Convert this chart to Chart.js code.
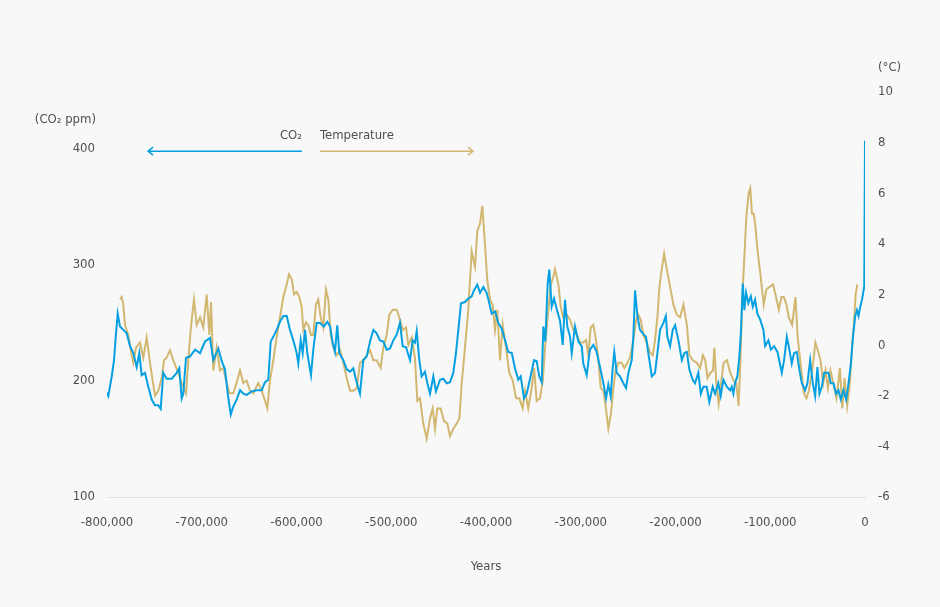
<!DOCTYPE html>
<html>
<head>
<meta charset="utf-8">
<script src="https://cdn.jsdelivr.net/npm/chart.js@4"></script>
<style>
    html, body { margin: 0; padding: 0; background: #f8f8f8; }
    #wrap { width: 940px; height: 607px; }
</style>
</head>
<body>
<div id="wrap"><canvas id="chart" width="940" height="607"></canvas></div>
<script>
// CO2 (ppm) — ice core record
const co2Years = [-800000,-798600,-795000,-792600,-790500,-788700,-786300,-782800,-779200,-775700,-772200,-768700,-765900,-763400,-759900,-756400,-752800,-749300,-745800,-743300,-740600,-737000,-731700,-726400,-723700,-721200,-719500,-716600,-712400,-707100,-701800,-696600,-691300,-687800,-682500,-678900,-675500,-672600,-669400,-666700,-663100,-659600,-656100,-652600,-647300,-642000,-636800,-633200,-629800,-627200,-624500,-621000,-617400,-613900,-610300,-606900,-603400,-599800,-598100,-595600,-593500,-591000,-588600,-584700,-582300,-578700,-575200,-571000,-567500,-564600,-561800,-559400,-557000,-554800,-550600,-547000,-543500,-540000,-537200,-533000,-529500,-525900,-522400,-518900,-515400,-511900,-508400,-504800,-501300,-497800,-494200,-490800,-487900,-484400,-480200,-477400,-475000,-473100,-470400,-467900,-464400,-461900,-459100,-455600,-452800,-448500,-445000,-441500,-438000,-434500,-431700,-429200,-426400,-422200,-418700,-415100,-412700,-409200,-406300,-402800,-399300,-396500,-394000,-390500,-387000,-383400,-379900,-376500,-372800,-369400,-365900,-363400,-359900,-357000,-352900,-349300,-346500,-343800,-341200,-339500,-337400,-334900,-333200,-330700,-328200,-325400,-321900,-319000,-316600,-314200,-311300,-309500,-306100,-302500,-299000,-297300,-293700,-290300,-286700,-283200,-279700,-276100,-273300,-270900,-268400,-266300,-264600,-262100,-258600,-255000,-252200,-249700,-246200,-244500,-242700,-240200,-237500,-234600,-231100,-228700,-225000,-221600,-219100,-216300,-212800,-210200,-208600,-205700,-202900,-200400,-196900,-193300,-190600,-188000,-185400,-181800,-179400,-175900,-173300,-170600,-167100,-164300,-160700,-158200,-154800,-152300,-149500,-145900,-142400,-140700,-138900,-137200,-134700,-132600,-130800,-129000,-127300,-125500,-123100,-120500,-118400,-116000,-113600,-110700,-107200,-105400,-101900,-99400,-95900,-92400,-87800,-85400,-82500,-79800,-77300,-74900,-72000,-69300,-66700,-63200,-60800,-57900,-55100,-52600,-50200,-48100,-45600,-43100,-38600,-36100,-33300,-30400,-28000,-25500,-22700,-19900,-17400,-14900,-12700,-10300,-8500,-6800,-5000,-3200,-1500,-800,0];
const co2Values = [190,187,204,218,241,258,247,244,241,230,224,212,224,205,207,195,184,179,179,176,207,202,202,207,211,185,189,220,221,227,224,234,237,218,228,217,210,189,171,178,184,192,189,188,191,192,192,199,201,234,238,244,251,256,256,244,235,224,215,235,224,244,224,205,227,250,250,247,251,247,233,225,248,224,218,210,208,211,201,189,218,221,234,244,241,235,234,227,228,235,240,250,230,229,218,235,233,243,218,204,208,198,189,204,191,201,202,198,199,207,224,244,267,268,271,273,278,283,276,281,276,267,258,260,250,245,235,225,224,211,201,204,185,189,204,218,217,204,199,247,234,284,296,264,271,262,252,231,270,247,238,224,247,234,230,215,205,227,231,225,212,198,185,197,187,211,225,207,204,198,194,207,218,238,278,256,244,241,238,224,204,207,224,244,250,256,238,230,244,248,235,218,224,225,210,201,198,207,189,195,195,182,195,189,198,187,201,195,192,195,189,198,204,221,244,284,261,276,267,273,264,270,258,253,244,230,235,227,230,225,207,218,238,227,215,224,225,210,198,192,198,218,198,187,212,189,195,207,207,198,198,189,192,184,192,184,198,215,238,256,261,256,264,270,278,281,407];

// Temperature anomaly (°C)
const tempYears = [-786300,-784500,-782800,-781000,-777500,-773900,-772200,-769400,-765200,-761700,-758100,-754600,-751800,-749300,-745800,-742300,-739800,-737000,-733500,-730000,-724700,-721200,-716600,-714200,-711700,-708200,-705300,-701800,-698400,-694800,-692000,-690200,-687800,-684200,-680700,-677200,-674400,-670800,-666700,-662500,-659600,-656100,-652600,-649100,-645600,-640300,-636800,-633200,-630800,-628000,-624500,-621000,-617400,-613900,-610300,-607900,-605000,-602600,-599800,-597000,-594500,-592800,-590000,-587600,-584700,-582300,-579500,-577000,-574500,-571700,-568900,-566400,-563900,-561100,-557500,-554000,-550600,-547000,-543500,-540000,-536400,-533000,-529500,-525900,-522400,-518900,-515400,-511200,-508400,-504800,-502100,-498500,-494200,-490800,-487900,-484400,-482000,-478400,-475000,-472500,-469700,-466200,-462600,-459100,-456300,-453800,-451400,-447800,-444300,-440800,-438000,-434500,-430900,-428100,-425600,-422200,-418700,-415100,-413400,-411600,-409200,-406300,-403900,-401100,-398700,-395800,-393000,-390500,-388100,-385200,-382400,-378900,-375400,-371800,-368300,-364900,-361300,-358800,-355400,-351800,-349300,-346500,-343000,-340100,-337700,-334200,-331600,-328900,-327200,-323600,-321100,-318400,-314800,-311300,-307800,-304200,-300800,-297300,-294400,-292000,-289500,-286700,-283900,-281400,-278900,-276100,-273400,-270900,-268100,-265600,-263100,-260300,-256800,-254000,-250800,-248000,-244500,-241600,-239200,-236700,-233900,-230300,-226800,-224000,-221600,-219100,-217000,-214500,-212000,-209200,-205700,-202200,-198600,-195100,-191600,-188000,-185300,-181700,-177500,-174000,-171100,-168600,-166200,-163300,-160500,-159000,-156900,-154500,-151900,-149200,-145600,-142200,-138600,-135800,-133400,-131600,-129500,-127300,-125200,-122800,-121100,-119300,-117500,-115700,-113300,-110400,-106900,-104100,-100600,-97000,-94500,-91000,-88200,-85700,-82900,-80500,-76900,-73400,-71000,-68100,-64600,-61700,-59300,-55700,-52300,-49800,-47000,-44100,-41700,-39200,-36400,-33500,-30100,-26500,-24000,-21600,-18800,-16000,-13400,-11700,-9900,-8100];
const tempValues = [1.8,1.9,1.6,0.8,0.4,-0.4,-0.7,-0.1,0.1,-0.5,0.3,-0.7,-1.4,-2.0,-1.8,-1.3,-0.6,-0.5,-0.2,-0.6,-1.1,-1.5,-1.9,-0.6,0.6,1.8,0.8,1.1,0.7,2.0,0.4,1.7,-1.0,-0.1,-1.0,-0.9,-1.4,-1.9,-1.9,-1.4,-1.0,-1.5,-1.4,-1.8,-1.9,-1.5,-1.8,-2.2,-2.5,-1.4,-0.6,0.3,1.1,1.9,2.4,2.8,2.6,2.0,2.1,1.9,1.5,0.6,0.9,0.8,0.4,0.4,1.6,1.8,1.1,0.7,2.2,1.8,0.4,-0.1,-0.4,-0.2,-0.7,-1.3,-1.8,-1.8,-1.7,-0.7,-0.6,-0.4,-0.2,-0.6,-0.6,-0.9,-0.1,0.4,1.2,1.4,1.4,1.0,0.6,0.7,0.0,0.3,-0.5,-2.2,-2.1,-3.1,-3.7,-2.9,-2.5,-3.3,-2.5,-2.5,-3.0,-3.1,-3.6,-3.3,-3.1,-2.9,-1.5,-0.1,1.4,3.7,3.4,3.1,4.5,4.8,5.5,4.0,2.6,1.8,1.6,0.6,1.4,-0.6,0.8,-0.1,-1.1,-1.4,-2.1,-2.1,-2.5,-1.8,-2.5,-1.7,-0.9,-2.2,-2.1,-1.4,-0.1,1.4,2.4,2.7,3.0,2.4,1.5,1.1,1.2,1.0,0.6,0.4,0.1,0.1,0.2,-0.4,0.7,0.8,0.2,-0.6,-1.7,-1.8,-2.5,-3.3,-2.7,-1.7,-1.0,-0.7,-0.7,-0.9,-0.7,-0.5,0.2,1.0,1.2,1.0,0.4,0.1,-0.3,-0.4,0.2,1.1,2.3,3.0,3.6,3.0,2.3,1.6,1.2,1.1,1.6,0.8,-0.4,-0.6,-0.7,-0.9,-0.4,-0.6,-1.3,-1.1,-1.0,-0.1,-1.5,-2.3,-1.5,-0.7,-0.6,-1.1,-1.4,-1.5,-2.4,-0.7,1.9,3.5,5.1,6.0,6.2,5.2,5.2,4.7,3.7,2.8,1.6,2.2,2.3,2.4,2.0,1.4,1.9,1.9,1.6,1.1,0.8,1.9,0.3,-0.7,-1.9,-2.1,-1.8,-1.0,0.1,-0.2,-0.6,-1.5,-1.0,-1.7,-1.0,-1.5,-2.1,-0.9,-2.5,-1.3,-2.4,-1.5,0.1,0.8,2.0,2.4];

const co2Ticks = [100, 200, 300, 400];

const BLUE = '#05a0e2';
const GOLD = '#d2b771';
const TEXT = '#505050';
const FONT = '"Liberation Sans Narrow", "DejaVu Sans Condensed", sans-serif';
const FSIZE = 13;

const co2Points = co2Years.map((x, i) => ({ x: x, y: co2Values[i] }));
const tempPoints = tempYears.map((x, i) => ({ x: x, y: tempValues[i] }));

// axis unit labels + legend arrows
const annotations = {
    id: 'annotations',
    afterDraw(chart) {
        const ctx = chart.ctx;
        const area = chart.chartArea;
        const xs = chart.scales.x;
        const ys = chart.scales.y;
        ctx.save();
        ctx.font = FSIZE + 'px ' + FONT;
        ctx.fillStyle = TEXT;
        ctx.textBaseline = 'middle';

        ctx.textAlign = 'right';
        ctx.fillText('(CO\u2082 ppm)', area.left - 11, 120);
        ctx.textAlign = 'left';
        ctx.fillText('(\u00B0C)', area.right + 13, 68);

        const ay = ys.getPixelForValue(398);
        const b0 = xs.getPixelForValue(-756700), b1 = xs.getPixelForValue(-594200);
        const g0 = xs.getPixelForValue(-575200), g1 = xs.getPixelForValue(-413700);

        ctx.textAlign = 'right';
        ctx.fillText('CO\u2082', b1, ay - 16);
        ctx.textAlign = 'left';
        ctx.fillText('Temperature', g0, ay - 16);

        ctx.lineWidth = 1.5;
        ctx.strokeStyle = BLUE;
        ctx.beginPath();
        ctx.moveTo(b1, ay); ctx.lineTo(b0, ay);
        ctx.moveTo(b0 + 5, ay - 4); ctx.lineTo(b0, ay); ctx.lineTo(b0 + 5, ay + 4);
        ctx.stroke();

        ctx.strokeStyle = GOLD;
        ctx.beginPath();
        ctx.moveTo(g0, ay); ctx.lineTo(g1, ay);
        ctx.moveTo(g1 - 5, ay - 4); ctx.lineTo(g1, ay); ctx.lineTo(g1 - 5, ay + 4);
        ctx.stroke();
        ctx.restore();
    }
};

new Chart(document.getElementById('chart').getContext('2d'), {
    type: 'line',
    data: {
        datasets: [
            { label: 'CO2', data: co2Points, yAxisID: 'y', borderColor: BLUE, borderWidth: 2, pointRadius: 0, tension: 0 },
            { label: 'Temperature', data: tempPoints, yAxisID: 'y1', borderColor: GOLD, borderWidth: 2, pointRadius: 0, tension: 0 }
        ]
    },
    options: {
        responsive: false,
        animation: false,
        devicePixelRatio: 1,
        layout: { padding: { top: 92, left: 0, right: 0, bottom: 0 } },
        plugins: { legend: { display: false }, tooltip: { enabled: false } },
        scales: {
            x: {
                type: 'linear',
                min: -800000,
                max: 0,
                afterFit: s => { s.height = 110; },
                ticks: {
                    stepSize: 100000,
                    padding: 18,
                    color: TEXT,
                    font: { family: FONT, size: FSIZE },
                    maxRotation: 0,
                    callback: v => v.toLocaleString('en-US')
                },
                grid: { display: false, drawTicks: false },
                border: { display: true, color: '#e2e2e2', width: 1 },
                title: { display: true, text: 'Years', color: TEXT, font: { family: FONT, size: FSIZE }, padding: { top: 33, bottom: 33 } }
            },
            y: {
                position: 'left',
                min: 100,
                max: 449,
                afterFit: s => { s.width = 107; },
                afterBuildTicks: s => { s.ticks = co2Ticks.map(v => ({ value: v })); },
                ticks: { padding: 12, color: TEXT, font: { family: FONT, size: FSIZE } },
                grid: { display: false, drawTicks: false },
                border: { display: false }
            },
            y1: {
                position: 'right',
                min: -6,
                max: 10,
                afterFit: s => { s.width = 75; },
                ticks: { stepSize: 2, padding: 13, color: TEXT, font: { family: FONT, size: FSIZE } },
                grid: { display: false, drawTicks: false },
                border: { display: false }
            }
        }
    },
    plugins: [annotations]
});
</script>
</body>
</html>
